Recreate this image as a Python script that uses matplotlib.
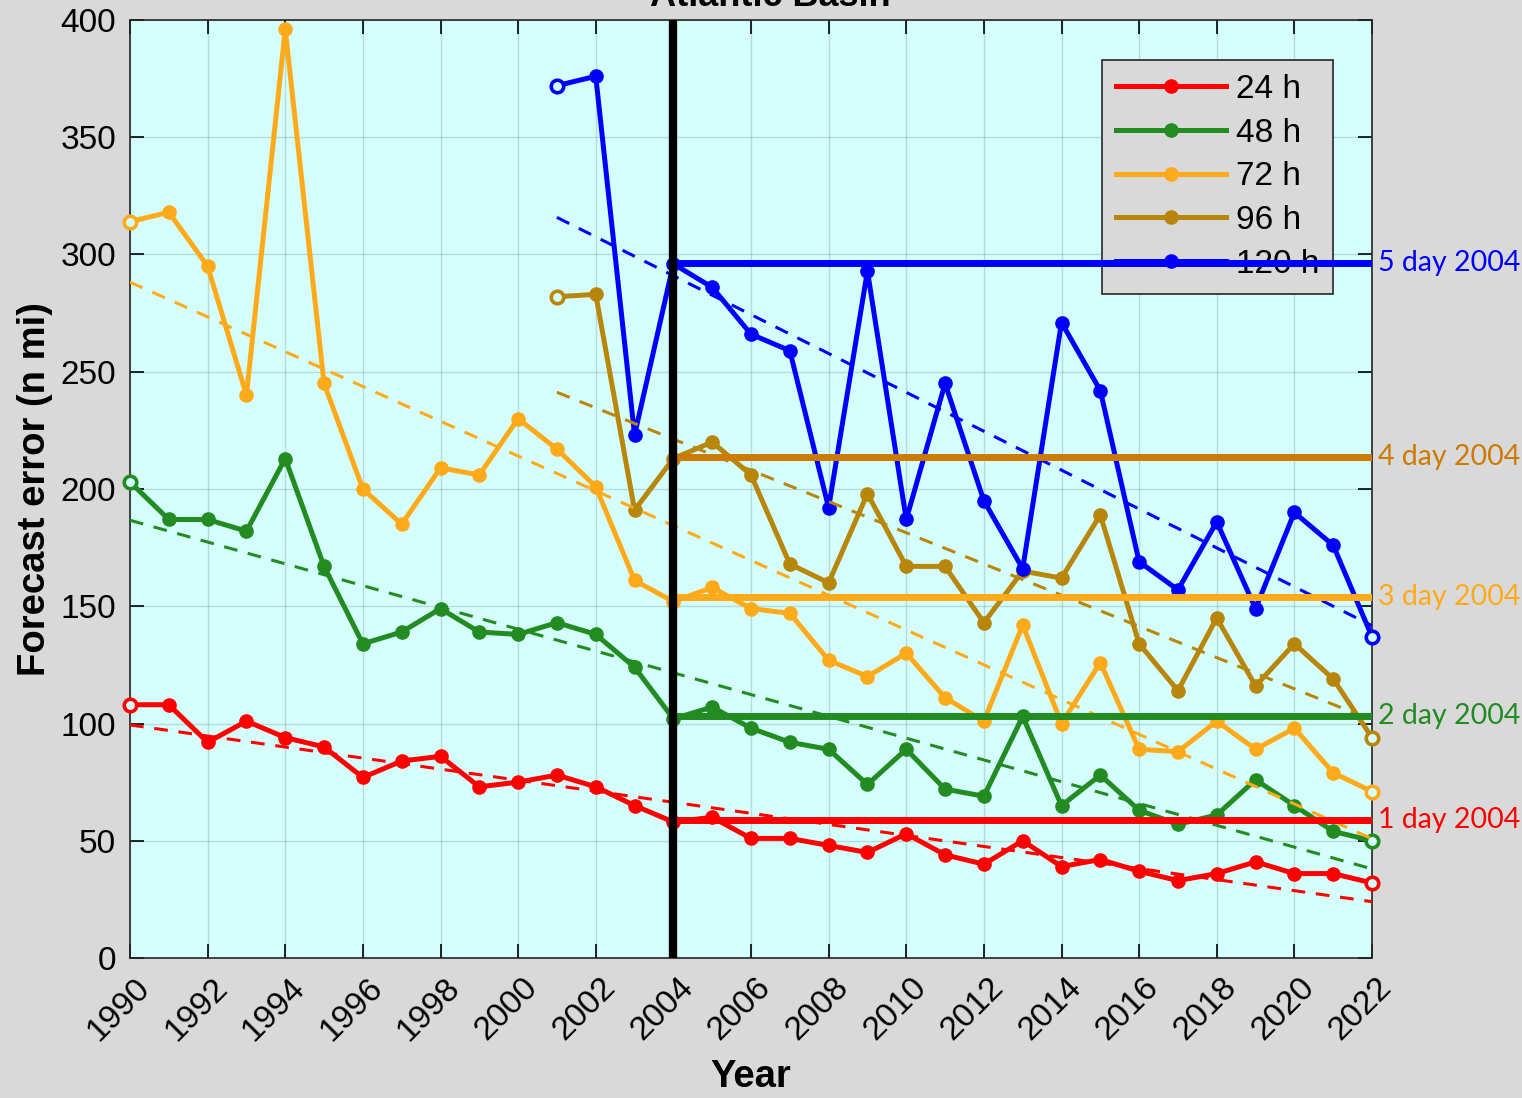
import numpy as np
import matplotlib.pyplot as plt
import matplotlib.transforms as mtransforms

plt.rcParams['font.family'] = ['Liberation Sans', 'DejaVu Sans']

years = np.arange(1990, 2023)
years_long = np.arange(2001, 2023)

err_24h = [108, 108, 92, 101, 94, 90, 77, 84, 86, 73, 75, 78, 73, 65, 58,
           60, 51, 51, 48, 45, 53, 44, 40, 50, 39, 42, 37, 33, 36, 41, 36, 36, 32]
err_48h = [203, 187, 187, 182, 213, 167, 134, 139, 149, 139, 138, 143, 138, 124, 102,
           107, 98, 92, 89, 74, 89, 72, 69, 103, 65, 78, 63, 57, 61, 76, 65, 54, 50]
err_72h = [314, 318, 295, 240, 396, 245, 200, 185, 209, 206, 230, 217, 201, 161, 152,
           158, 149, 147, 127, 120, 130, 111, 101, 142, 100, 126, 89, 88, 101, 89, 98, 79, 71]
err_96h = [282, 283, 191, 213,
           220, 206, 168, 160, 198, 167, 167, 143, 165, 162, 189, 134, 114, 145, 116, 134, 119, 94]
err_120h = [372, 376, 223, 296,
            286, 266, 259, 192, 293, 187, 245, 195, 166, 271, 242, 169, 157, 186, 149, 190, 176, 137]

labels = ['24 h', '48 h', '72 h', '96 h', '120 h']
colors = ['#ff0000', '#228b22', '#ffaa1a', '#b8860b', '#0000ff']

# 2004 reference levels drawn to the right
ref_2004 = [59, 103, 154, 213.5, 296.5]
ref_labels = ['1 day 2004', '2 day 2004', '3 day 2004', '4 day 2004', '5 day 2004']
ref_colors = ['#ff0000', '#228b22', '#ffaa1a', '#cc7a00', '#0000ff']

bg_axes = '#d4fffc'
bg_fig = '#d9d9d9'

fig = plt.figure(figsize=(15.22, 10.98), dpi=100, facecolor=bg_fig)
ax = fig.add_axes([130 / 1522, 1 - 958 / 1098, 1242 / 1522, 938 / 1098])
ax.set_facecolor(bg_axes)

series = [(years, err_24h), (years, err_48h), (years, err_72h),
          (years_long, err_96h), (years_long, err_120h)]

handles = []
for (x, y), c, lab in zip(series, colors, labels):
    x = np.asarray(x)
    y = np.asarray(y, dtype=float)
    h, = ax.plot(x, y, '-o', color=c, lw=3.6, ms=9.5, zorder=3, clip_on=False, label=lab)
    handles.append(h)
    # hollow first / last markers
    ax.plot(x[[0, -1]], y[[0, -1]], 'o', ms=9, mfc=bg_axes, mec=c, mew=2.6,
            zorder=3.2, clip_on=False)
    # linear trend
    p = np.polyfit(x, y, 1)
    ax.plot(x[[0, -1]], np.polyval(p, x[[0, -1]]), '--', color=c, lw=2.2,
            dashes=(4.5, 3.5), zorder=3.5)

for lvl, c, txt in zip(ref_2004, ref_colors, ref_labels):
    ax.plot([2004, 2022], [lvl, lvl], color=c, lw=5, zorder=5, solid_capstyle='butt')
    ax.text(2022.15, lvl, txt, color=c, fontsize=20.5, family=['Lato', 'DejaVu Sans'],
            va='center', ha='left', clip_on=False)

ax.axvline(2004, color='black', lw=6, zorder=6)

ax.set_xlim(1990, 2022)
ax.set_ylim(0, 400)
ax.set_xticks(np.arange(1990, 2023, 2))
ax.set_yticks(np.arange(0, 401, 50))
ax.tick_params(direction='in', length=10, width=1.2, top=True, right=True,
               labelsize=24)
ax.tick_params(axis='y', pad=10)
ax.tick_params(axis='x', pad=18)
shift = mtransforms.ScaledTranslation(0.15, 0, fig.dpi_scale_trans)
for lbl in ax.get_xticklabels():
    lbl.set_rotation(45)
    lbl.set_ha('right')
    lbl.set_va('center')
    lbl.set_rotation_mode('anchor')
    lbl.set_transform(lbl.get_transform() + shift)
ax.grid(True, color='#2f4f4f', alpha=0.2, lw=1)
ax.set_axisbelow(True)
for s in ax.spines.values():
    s.set_linewidth(1.2)
    s.set_color('#262626')

ax.set_xlabel('Year', fontsize=27.5, fontweight='bold', labelpad=9)
ax.set_ylabel('Forecast error (n mi)', fontsize=27.5, fontweight='bold', labelpad=5)

leg = ax.legend(handles=handles, loc='upper right', bbox_to_anchor=(0.9686, 0.9574),
                borderaxespad=0, fontsize=24, handlelength=3.3, handletextpad=0.3,
                labelspacing=0.38, borderpad=0.42, fancybox=False, framealpha=1,
                facecolor=bg_fig, edgecolor='#262626')
leg.get_frame().set_linewidth(1.2)
leg.set_zorder(4)

fig.text(770 / 1522, 1 - 6 / 1098, 'Atlantic Basin', fontsize=26, fontweight='bold',
         ha='center', va='baseline')

fig.savefig('out.png', dpi=100, facecolor=bg_fig)
